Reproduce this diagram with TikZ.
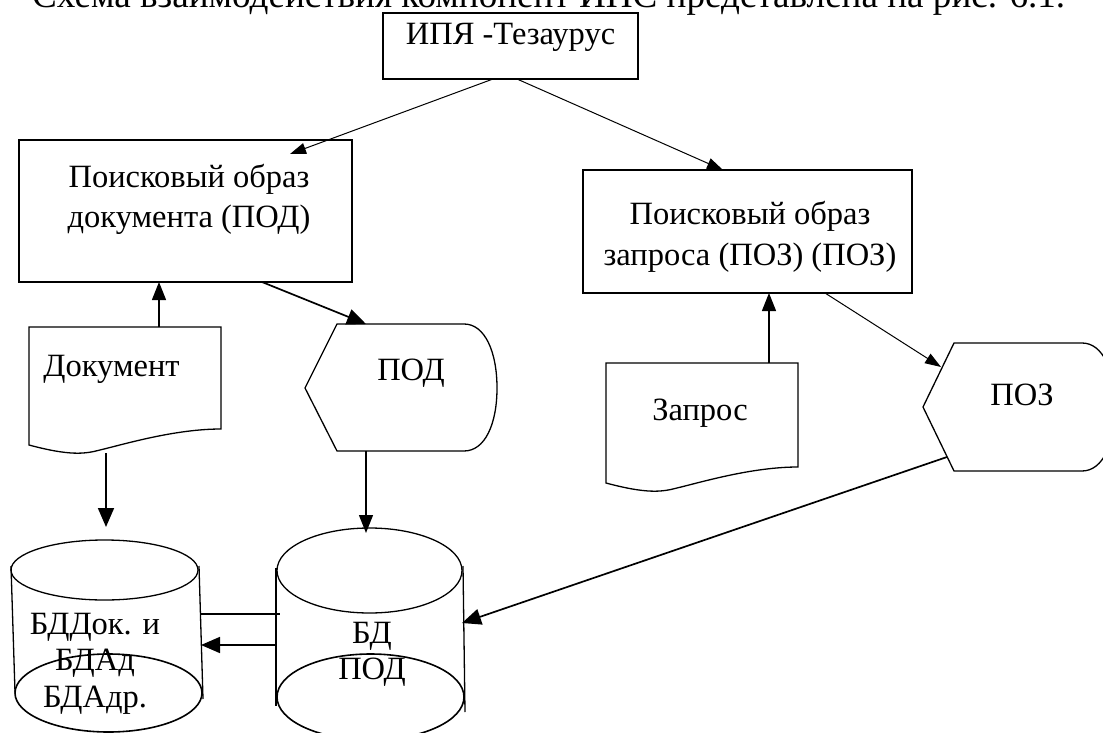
\documentclass[tikz,border=0pt]{standalone}
\usepackage{fontspec}
\usepackage{graphicx}
\setmainfont{Liberation Serif}
\usetikzlibrary{arrows.meta,calc}

\begin{document}
\begin{tikzpicture}[x=1pt,y=-1pt,
  txt/.style={font=\fontsize{32.5}{40}\selectfont, inner sep=0pt, align=center, anchor=base},
  cyltxt/.style={font=\fontsize{32.5}{36.5}\selectfont, inner sep=0pt, align=center, anchor=base},
  shp/.style={draw, line width=1.3pt},
  box/.style={shp, rectangle, inner sep=0pt},
  ln/.style={line width=1.3pt},
  arr/.style={ln, -{Triangle[length=18pt,width=14pt]}},
  thinarr/.style={line width=1pt, -{Triangle[length=16pt,width=11pt]}},
  bigarr/.style={line width=1.7pt, -{Triangle[length=19pt,width=16pt]}},
]
\useasboundingbox (0,0) rectangle (1103,733);
\clip (0,0) rectangle (1103,733);
\fill[white] (0,0) rectangle (1103,733);

% caption line of the page, partly cut by the top edge
\node[anchor=base west, inner sep=0pt] (caption) at (32,8)
  {\resizebox{1033pt}{!}{\fontsize{30}{36}\selectfont Схема взаимодействия компонент ИПС представлена на рис. 6.1.}};

% rectangular blocks
\node[box, minimum width=255pt, minimum height=66pt] (ipya) at (510.5,46) {};
\node[txt] (ipyatxt) at (510.5,45) {ИПЯ -Тезаурус};

\node[box, minimum width=333pt, minimum height=142pt] (podbox) at (185.5,211) {};
\node[txt] (podboxtxt) at (189,227) {Поисковый образ\\документа (ПОД)};

\node[box, minimum width=329pt, minimum height=123pt] (pozbox) at (747.5,231.5) {};
\node[txt, font=\fontsize{32.5}{41}\selectfont] (pozboxtxt) at (750,265) {Поисковый образ\\запроса (ПОЗ) (ПОЗ)};

% document shapes (wavy bottom edge)
\draw[shp] (29,327) -- (221,327) -- (221,429)
  .. controls (175,429) and (125,444) .. (100,450)
  .. controls (85,454) and (70,456) .. (29,445) -- cycle;
\node[txt] (doctxt) at (111.5,376) {Документ};

\draw[shp] (606,363) -- (798,363) -- (798,467)
  .. controls (752,467) and (702,482) .. (677,488)
  .. controls (662,492) and (647,494) .. (606,483) -- cycle;
\node[txt] (reqtxt) at (700,420) {Запрос};

% display shapes
\draw[shp] (305,388) -- (337,324) -- (464,324)
  .. controls (485,324) and (497,352) .. (497,388)
  .. controls (497,424) and (485,451) .. (464,451)
  -- (337,451) -- cycle;
\node[txt] (podtxt) at (411,380) {ПОД};

\draw[shp] (923,407) -- (954,343) -- (1082,343)
  .. controls (1103,343) and (1115,371) .. (1115,407)
  .. controls (1115,443) and (1103,471) .. (1082,471)
  -- (954,471) -- cycle;
\node[txt] (poztxt) at (1022,405) {ПОЗ};

% storage cylinders
\draw[shp] (104.5,570) ellipse [x radius=93.5, y radius=30];
\draw[ln] (11,566) -- (15,692);
\draw[ln] (199,566) -- (203,699);
\draw[shp, line width=1.6pt] (108.5,693) ellipse [x radius=93.5, y radius=39];
\node[cyltxt] (dbdoctxt) at (95,707) {БДДок. и\\БДАд\\БДАдр.};

\draw[shp] (369.5,570.5) ellipse [x radius=92.5, y radius=42.5];
\draw[ln] (276,568) -- (276,706);
\draw[ln] (463,566) -- (465,712);
\draw[shp, line width=1.6pt] (370.5,697) ellipse [x radius=93.5, y radius=43];
\node[cyltxt, font=\fontsize{32.5}{36}\selectfont] (dbpodtxt) at (372,679) {БД\\ПОД};

% connector end points
\coordinate (ipyaL) at (493,79);
\coordinate (ipyaR) at (517,79);
\coordinate (podboxIn) at (290,154);
\coordinate (pozboxIn) at (723,170);
\coordinate (docTop) at (159,327);
\coordinate (podboxBot) at (159,282);
\coordinate (podboxOut) at (262,282);
\coordinate (podTop) at (366,324);
\coordinate (docBot) at (106,453);
\coordinate (dbdocTop) at (106,527);
\coordinate (podBot) at (366,451);
\coordinate (dbpodTop) at (366,533);
\coordinate (reqTop) at (769,363);
\coordinate (pozboxBot) at (769,293);
\coordinate (pozboxOut) at (825,293);
\coordinate (pozIn) at (941,367);
\coordinate (pozOut) at (947,457);
\coordinate (dbpodSide) at (462,623);
\coordinate (linkA1) at (201,614);
\coordinate (linkA2) at (280,614);
\coordinate (linkB1) at (275,645);
\coordinate (linkB2) at (201,645);

% connectors
\draw[thinarr] (ipyaL) -- (podboxIn);
\draw[thinarr] (ipyaR) -- (pozboxIn);
\draw[arr] (docTop) -- (podboxBot);
\draw[bigarr] (podboxOut) -- (podTop);
\draw[bigarr] (docBot) -- (dbdocTop);
\draw[arr] (podBot) -- (dbpodTop);
\draw[arr] (reqTop) -- (pozboxBot);
\draw[thinarr] (pozboxOut) -- (pozIn);
\draw[bigarr] (pozOut) -- (dbpodSide);
\draw[line width=2pt] (linkA1) -- (linkA2);
\draw[bigarr] (linkB1) -- (linkB2);
\end{tikzpicture}
\end{document}
